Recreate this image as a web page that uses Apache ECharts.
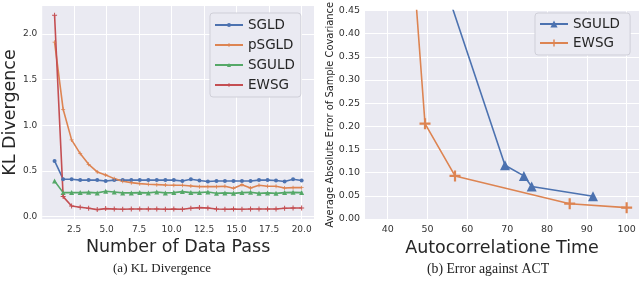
<!DOCTYPE html>
<html><head><meta charset="utf-8">
<script src="https://cdn.jsdelivr.net/npm/echarts@6/dist/echarts.min.js"></script>
<style>html,body{margin:0;padding:0;background:#fff}#c{width:640px;height:291px}</style>
</head><body><div id="c"></div>
<script>
// ---- Panel (a): KL divergence vs number of data passes ----
const passes = [1.00, 1.66, 2.31, 2.97, 3.62, 4.28, 4.93, 5.59, 6.24, 6.90, 7.55, 8.21, 8.86, 9.52, 10.17, 10.83, 11.48, 12.14, 12.79, 13.45, 14.10, 14.76, 15.41, 16.07, 16.72, 17.38, 18.03, 18.69, 19.34, 20.00];
const klSGLD  = [0.61, 0.41, 0.41, 0.40, 0.40, 0.40, 0.39, 0.40, 0.40, 0.40, 0.40, 0.40, 0.40, 0.40, 0.40, 0.39, 0.41, 0.395, 0.385, 0.39, 0.39, 0.39, 0.39, 0.39, 0.40, 0.40, 0.395, 0.385, 0.41, 0.395];
const klPSGLD = [1.91, 1.175, 0.84, 0.69, 0.573, 0.489, 0.456, 0.416, 0.387, 0.372, 0.361, 0.354, 0.35, 0.346, 0.344, 0.343, 0.336, 0.328, 0.328, 0.328, 0.332, 0.31, 0.35, 0.313, 0.343, 0.332, 0.332, 0.313, 0.317, 0.317];
const klSGULD = [0.39, 0.263, 0.263, 0.263, 0.266, 0.26, 0.278, 0.27, 0.26, 0.26, 0.263, 0.26, 0.27, 0.26, 0.263, 0.274, 0.263, 0.263, 0.27, 0.255, 0.26, 0.255, 0.263, 0.266, 0.255, 0.26, 0.255, 0.263, 0.266, 0.263];
const klEWSG  = [2.205, 0.219, 0.116, 0.102, 0.091, 0.077, 0.088, 0.084, 0.08, 0.084, 0.084, 0.084, 0.084, 0.08, 0.084, 0.08, 0.091, 0.099, 0.095, 0.084, 0.08, 0.084, 0.08, 0.084, 0.084, 0.084, 0.084, 0.091, 0.095, 0.095];
const klXTicks = [2.5, 5.0, 7.5, 10.0, 12.5, 15.0, 17.5, 20.0];
const klYTicks = [0.0, 0.5, 1.0, 1.5, 2.0];

// ---- Panel (b): error against autocorrelation time ----
const actSGULD = [45.0, 69.45, 74.2, 76.15, 91.55];
const errSGULD = [0.745, 0.116, 0.093, 0.070, 0.049];
const actEWSG  = [37.4, 49.37, 56.9, 85.7, 100.0];
const errEWSG  = [1.60, 0.2056, 0.093, 0.033, 0.0245];
const actXTicks = [40, 50, 60, 70, 80, 90, 100];

const C = {blue:'#4C72B0', orange:'#DD8452', green:'#55A868', red:'#C44E52'};
const BG = '#EAEAF2';
const plus = 'path://M4,0H6V4H10V6H6V10H4V6H0V4H4Z';
const pair = (xs, ys) => xs.map((x, i) => [x, ys[i]]);
const tickFont = {color:'#333', fontSize:9, fontFamily:'DejaVu Sans'};
const nameFont = {color:'#262626', fontSize:17.5, fontFamily:'DejaVu Sans'};

const chart = echarts.init(document.getElementById('c'), null, {renderer:'canvas'});
function line(name, xs, ys, color, symbol, size, xi) {
  return {type:'line', name, xAxisIndex:xi, yAxisIndex:xi, data:pair(xs, ys),
    symbol, symbolSize:size, showSymbol:true, clip:true,
    lineStyle:{color, width:1.6}, itemStyle:{color},
    emphasis:{disabled:true}, animation:false};
}
chart.setOption({
  animation:false,
  grid:[
    {left:41, top:6, width:273, height:213, show:true, backgroundColor:BG, borderWidth:0},
    {left:365, top:6, width:274, height:213, show:true, backgroundColor:BG, borderWidth:0}
  ],
  xAxis:[
    {type:'value', gridIndex:0, min:0.05, max:20.95,
     name:'Number of Data Pass', nameLocation:'middle', nameGap:8, nameTextStyle:nameFont,
     axisLine:{show:false}, axisTick:{show:false, customValues:klXTicks},
     axisLabel:{customValues:klXTicks, formatter:v=>v.toFixed(1), margin:6, ...tickFont},
     splitLine:{show:true, lineStyle:{color:'#fff', width:1}}},
    {type:'value', gridIndex:1, min:34.3, max:103.1,
     name:'Autocorrelatione Time', nameLocation:'middle', nameGap:8, nameTextStyle:nameFont,
     axisLine:{show:false}, axisTick:{show:false, customValues:actXTicks},
     axisLabel:{customValues:actXTicks, formatter:v=>String(v), margin:6, ...tickFont, fontSize:9.5},
     splitLine:{show:true, lineStyle:{color:'#fff', width:1}}}
  ],
  yAxis:[
    {type:'value', gridIndex:0, min:-0.026, max:2.306,
     name:'KL Divergence', nameLocation:'middle', nameGap:21, nameTextStyle:nameFont,
     axisLine:{show:false}, axisTick:{show:false, customValues:klYTicks},
     axisLabel:{customValues:klYTicks, formatter:v=>v.toFixed(1), margin:5, ...tickFont},
     splitLine:{show:true, lineStyle:{color:'#fff', width:1}}},
    {type:'value', gridIndex:1, min:0, max:0.45, interval:0.05,
     name:'Average Absolute Error of Sample Covariance', nameLocation:'middle', nameGap:25,
     nameTextStyle:{color:'#262626', fontSize:9.9, fontFamily:'DejaVu Sans'},
     axisLine:{show:false}, axisTick:{show:false},
     axisLabel:{formatter:v=>v.toFixed(2), margin:5, ...tickFont, fontSize:9.5},
     splitLine:{show:true, lineStyle:{color:'#fff', width:1}}}
  ],
  legend:[
    {data:['SGLD','pSGLD','SGULD','EWSG'], orient:'vertical', left:210, top:13,
     padding:[5,6,5,4], itemWidth:28, itemHeight:5, itemGap:6,
     backgroundColor:BG, borderColor:'#cfcfd8', borderWidth:1, borderRadius:3,
     textStyle:{fontSize:13.5, color:'#262626', fontFamily:'DejaVu Sans', lineHeight:14}},
    {data:['SGULD ','EWSG '], orient:'vertical', left:535, top:13,
     padding:[4,6,5,4], itemWidth:28, itemHeight:9, itemGap:5,
     backgroundColor:BG, borderColor:'#cfcfd8', borderWidth:1, borderRadius:3,
     textStyle:{fontSize:13.5, color:'#262626', fontFamily:'DejaVu Sans', lineHeight:14}}
  ],
  series:[
    line('SGLD', passes, klSGLD, C.blue, 'circle', 4, 0),
    line('pSGLD', passes, klPSGLD, C.orange, plus, 4, 0),
    line('SGULD', passes, klSGULD, C.green, 'triangle', 5, 0),
    line('EWSG', passes, klEWSG, C.red, plus, 5, 0),
    line('SGULD ', actSGULD, errSGULD, C.blue, 'triangle', 10, 1),
    line('EWSG ', actEWSG, errEWSG, C.orange, plus, 11, 1)
  ],
  graphic:[
    {type:'text', style:{text:'(a) KL Divergence', x:162, y:269, align:'center', verticalAlign:'middle',
      fontSize:13, fontFamily:'Liberation Serif', fill:'#222'}},
    {type:'text', style:{text:'(b) Error against ACT', x:488, y:269, align:'center', verticalAlign:'middle',
      fontSize:13.8, fontFamily:'Liberation Serif', fill:'#222'}}
  ]
});
</script></body></html>
